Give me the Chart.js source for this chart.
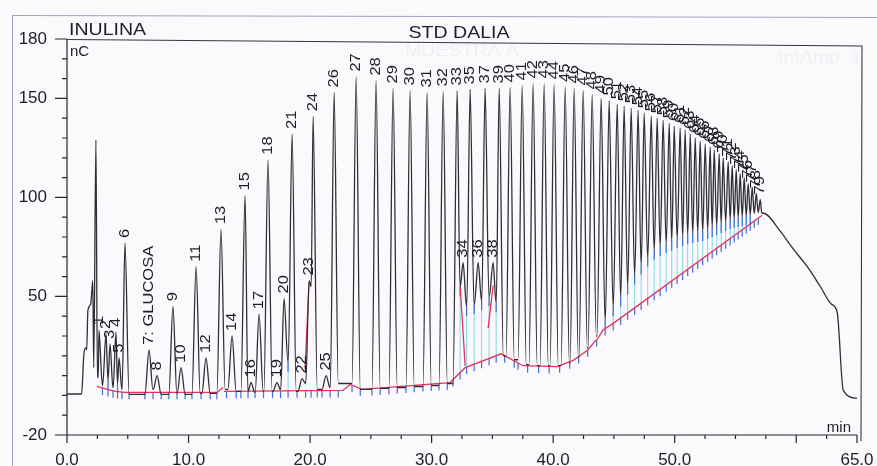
<!DOCTYPE html>
<html>
<head>
<meta charset="utf-8">
<script src="https://cdn.jsdelivr.net/npm/chart.js@4.4.0/dist/chart.umd.min.js"></script>
<style>
  html, body { margin: 0; padding: 0; background: #fcf9fc; }
</style>
</head>
<body>
<canvas id="myChart" width="877" height="466"></canvas>
<script>
// retention time (min) and height (nC) of each numbered peak
const peakTimes = [2.63, 3.21, 3.54, 4.03, 4.28, 4.77, 6.75, 7.41, 8.72, 9.38,
  10.62, 11.44, 12.67, 13.58, 14.65, 15.14, 15.80, 16.54, 17.28, 17.86,
  18.52, 19.34, 19.92, 20.25, 21.32, 21.98, 23.79, 25.43, 26.83, 28.23,
  29.63, 30.95, 32.10, 32.59, 33.17, 33.83, 34.40, 35.06, 35.56, 36.46,
  37.45, 38.35, 39.26, 40.08, 40.99, 41.73, 42.47, 43.21, 43.95, 44.61,
  45.27, 45.84, 46.42, 46.99, 47.49, 48.07, 48.56, 49.05, 49.55, 49.96,
  50.45, 50.86, 51.28, 51.69, 52.10, 52.51, 52.92, 53.25, 53.66, 53.99,
  54.40, 54.73, 55.06, 55.39, 55.72, 56.05, 56.38, 56.71, 57.04];
const peakHeights = [33, 31, 26, 32, 19, 77, 23, 10, 45, 14,
  65, 19, 84, 30, 101, 6.5, 41, 119, 6.5, 49,
  132, 8.5, 58, 141, 10, 153, 161, 159, 155, 154,
  153, 153.5, 154, 67, 154.5, 67, 155, 67, 155, 155.5,
  156.5, 157.5, 157.5, 157, 155.8, 155, 154, 152, 150, 149,
  147, 146, 145, 144, 142.5, 141, 140, 139, 137.5, 136,
  135, 134, 132, 130, 128.5, 127, 125.5, 124, 122, 120,
  118, 116, 114, 112, 110, 107, 105, 102, 99];
// signal level in the valley after each peak
const valleyLevels = [5, 8, 4, 6, 3, 0.5, 3, 0.5, 1, 0.5,
  1, 1, 3, 2, 2, 1.5, 2, 2, 3, 17,
  2, 6, 55, 3, 4, 6, 3, 3.5, 4, 4.5,
  5, 6, 55, 45, 46, 48, 50, 47, 20, 18,
  15.5, 15, 15, 15, 16.5, 19.5, 24, 30, 38, 45,
  50, 56, 61, 66, 70, 73.5, 75.5, 77, 78, 79.5,
  80.5, 81.5, 82, 82.5, 83, 84, 85, 86, 87, 88,
  89, 89.5, 90, 90.5, 91, 91.5, 92, 92.5];
const peakNames = peakTimes.map((t, i) => i === 6 ? '7: GLUCOSA' : String(i + 1));

// injection front and column wash-out
const leadIn = [[0, 0.7], [1.2, 0.7], [1.38, 20], [1.52, 24], [1.62, 23], [1.72, 43],
  [1.95, 46], [2.12, 58], [2.2, 14], [2.38, 129], [2.5, 9]];
const tailOut = [[57.3, 92], [58.68, 83], [59.75, 74], [60.91, 65], [61.98, 55],
  [62.9, 46], [63.37, 42], [63.87, 2.5], [65, -1.5]];

// integration baseline (null = break)
const baseline = [[2.47, 4.5], [3.3, 3], [4.0, 2], [4.77, 1.5], [12.35, 1.5], [12.84, 4], null,
  [12.92, 2], [22.7, 2.5], [23.3, 5.5], [24.28, 3], [31.52, 6.5], [32.76, 14], [35.72, 21],
  [37.53, 15], [40.33, 14.5], [41.65, 17.7], [42.8, 22.7], [43.7, 29], [44.1, 33],
  [44.86, 36], [57.2, 91]];
// drop lines under shoulder peaks 23, 34, 38
const shoulderLines = [[[19.59, 13.6], [19.92, 57]], [[32.35, 55], [32.76, 15]], [[35.06, 55.5], [34.65, 34]]];

const yLabels = [180, 150, 100, 50, -20];
const xLabels = [0, 10, 20, 30, 40, 50, 65];

const FONT = '"Liberation Sans", Arial, sans-serif';
const HALF_WIDTH = 0.34;

// trace: lead-in, every peak with its two feet, then the tail
const trace = leadIn.map(([x, y]) => ({x, y}));
const feet = [];
const last = leadIn[leadIn.length - 1];
for (let i = 0; i < peakTimes.length; i++) {
  const t = peakTimes[i];
  const prevT = i === 0 ? last[0] : peakTimes[i - 1];
  const nextT = i === peakTimes.length - 1 ? tailOut[0][0] : peakTimes[i + 1];
  const leftLvl = i === 0 ? last[1] : valleyLevels[i - 1];
  const rightLvl = i === peakTimes.length - 1 ? tailOut[0][1] : valleyLevels[i];
  const hl = Math.min(HALF_WIDTH, (t - prevT) * 0.48);
  const hr = Math.min(HALF_WIDTH, (nextT - t) * 0.48);
  trace.push({x: t - hl, y: leftLvl}, {x: t, y: peakHeights[i]}, {x: t + hr, y: rightLvl});
  feet.push([t - hl, t + hr]);
}
tailOut.forEach(([x, y]) => trace.push({x, y}));

const baselinePts = baseline.map(p => p ? {x: p[0], y: p[1]} : {x: NaN, y: null});
const shoulderPts = [];
shoulderLines.forEach(seg => {
  seg.forEach(([x, y]) => shoulderPts.push({x, y}));
  shoulderPts.push({x: seg[1][0], y: null});
});

function baseAt(t) {
  const pts = baseline.filter(p => p);
  if (t <= pts[0][0]) return pts[0][1];
  for (let i = 1; i < pts.length; i++) {
    if (t <= pts[i][0]) {
      const [x0, y0] = pts[i - 1], [x1, y1] = pts[i];
      return y0 + (y1 - y0) * (t - x0) / (x1 - x0);
    }
  }
  return pts[pts.length - 1][1];
}

// peak start/end marks and drop lines
const marks = [];
for (let i = 0; i < peakTimes.length - 1; i++) {
  const a = feet[i][1], b = feet[i + 1][0];
  if (b - a > 0.25) marks.push([a, valleyLevels[i], i], [b, valleyLevels[i], i]);
  else marks.push([(a + b) / 2, valleyLevels[i], i]);
}
const tickPts = [], dropPts = [];
marks.forEach(([t, v, i]) => {
  const b = baseAt(t);
  tickPts.push({x: t, y: b - 3.5}, {x: t, y: b}, {x: t, y: null});
  if (v - b > 4 && i !== 22) {
    dropPts.push({x: t, y: b}, {x: t, y: v}, {x: t, y: null});
    tickPts.push({x: t, y: v - 5}, {x: t, y: v}, {x: t, y: null});
  }
});

function wideText(ctx, str, x, y, align, sx) {
  ctx.save();
  ctx.translate(x, y);
  ctx.scale(sx, 1);
  ctx.textAlign = align;
  ctx.fillText(str, 0, 0);
  ctx.restore();
}

const paper = {
  id: 'paper',
  beforeDraw(chart) {
    const {ctx, width, height} = chart;
    ctx.save();
    ctx.fillStyle = '#fcf9fc';
    ctx.fillRect(0, 0, width, height);
    ctx.strokeStyle = '#a79fbd';
    ctx.lineWidth = 1;
    ctx.beginPath();
    ctx.moveTo(12.5, height);
    ctx.lineTo(12.5, 15.5);
    ctx.lineTo(width, 17.5);
    ctx.stroke();
    // print-through from the back of the sheet
    ctx.fillStyle = 'rgba(120, 120, 145, 0.07)';
    ctx.font = '17px ' + FONT;
    ctx.textBaseline = 'alphabetic';
    wideText(ctx, 'MUESTRA A', 462, 56, 'center', 1.15);
    wideText(ctx, 'IntAmp  1', 778, 63, 'left', 1.15);
    ctx.restore();
  },
  afterDatasetsDraw(chart) {
    const {ctx, scales: {x, y}} = chart;
    ctx.save();
    ctx.fillStyle = '#1f1d26';
    ctx.font = '15px ' + FONT;
    ctx.textAlign = 'left';
    ctx.textBaseline = 'middle';
    peakTimes.forEach((t, i) => {
      ctx.save();
      ctx.translate(x.getPixelForValue(t), y.getPixelForValue(peakHeights[i]) - 5);
      ctx.rotate(-Math.PI / 2);
      ctx.scale(1.1, 1);
      ctx.fillText(peakNames[i], 0, 0);
      ctx.restore();
    });
    ctx.restore();
  },
  afterDraw(chart) {
    const {ctx, chartArea: a, scales: {x, y}} = chart;
    ctx.save();
    ctx.strokeStyle = '#26242c';
    ctx.lineWidth = 1.2;
    ctx.beginPath();
    // axes
    ctx.moveTo(a.left, a.top);
    ctx.lineTo(a.left, a.bottom);
    ctx.lineTo(a.right, a.bottom);
    // y ticks every 10
    for (let v = -20; v <= 180; v += 10) {
      const py = y.getPixelForValue(v);
      const len = yLabels.includes(v) ? 12 : 5;
      ctx.moveTo(a.left - len, py);
      ctx.lineTo(a.left, py);
    }
    // x ticks every 2.5 min
    for (let k = 0; k <= 26; k++) {
      const v = k * 2.5;
      const px = x.getPixelForValue(v);
      const len = (k % 4 === 0 || k === 26) ? 8 : 4;
      ctx.moveTo(px, a.bottom);
      ctx.lineTo(px, a.bottom + len);
    }
    ctx.stroke();
    // frame top and right
    ctx.lineWidth = 1.1;
    ctx.strokeStyle = '#3a3442';
    ctx.beginPath();
    ctx.moveTo(a.left, a.top + 0.5);
    ctx.lineTo(862, a.top + 7);
    ctx.lineTo(861, 441);
    ctx.stroke();

    ctx.fillStyle = '#1f1d26';
    ctx.textBaseline = 'alphabetic';
    ctx.font = '17px ' + FONT;
    wideText(ctx, 'INULINA', 69, 35, 'left', 1.15);
    wideText(ctx, 'STD DALIA', 459, 38, 'center', 1.15);
    ctx.font = '15px ' + FONT;
    ctx.textAlign = 'left';
    ctx.fillText('nC', 70, 56);
    ctx.textAlign = 'right';
    ctx.fillText('min', 851, 432);
    ctx.restore();
  }
};

new Chart('myChart', {
  type: 'line',
  data: {
    datasets: [
      { data: trace, borderColor: '#302e36', borderWidth: 1.3, pointRadius: 0,
        cubicInterpolationMode: 'monotone', order: 0 },
      { data: baselinePts, borderColor: '#e8315b', borderWidth: 1.3, pointRadius: 0, spanGaps: false, order: 1 },
      { data: shoulderPts, borderColor: '#e8315b', borderWidth: 1.3, pointRadius: 0, spanGaps: false, order: 1 },
      { data: tickPts, borderColor: '#3d6fd6', borderWidth: 1.2, pointRadius: 0, spanGaps: false, order: 2 },
      { data: dropPts, borderColor: '#86d6e4', borderWidth: 1, pointRadius: 0, spanGaps: false, order: 3 }
    ]
  },
  options: {
    responsive: false,
    animation: false,
    events: [],
    layout: { padding: { left: 0, top: 39, right: 20, bottom: 0 } },
    plugins: { legend: { display: false }, tooltip: { enabled: false } },
    scales: {
      x: {
        type: 'linear', min: 0, max: 65,
        grid: { display: false }, border: { display: false },
        afterFit(s) { s.height = 31; s.paddingLeft = 0; s.paddingRight = 0; },
        ticks: {
          stepSize: 2.5, autoSkip: false, maxRotation: 0, padding: 7,
          color: '#1f1d26', font: { family: FONT, size: 17 },
          callback(v) {
            const hit = xLabels.find(l => Math.abs(l - v) < 1e-6);
            return hit === undefined ? '' : hit.toFixed(1);
          }
        }
      },
      y: {
        type: 'linear', min: -20, max: 180,
        grid: { display: false }, border: { display: false },
        afterFit(s) { s.width = 67; s.paddingTop = 0; s.paddingBottom = 0; },
        ticks: {
          stepSize: 10, autoSkip: false, padding: 12,
          color: '#1f1d26', font: { family: FONT, size: 17 },
          callback(v) { return yLabels.includes(v) ? String(v) : ''; }
        }
      }
    }
  },
  plugins: [paper]
});
</script>
</body>
</html>
